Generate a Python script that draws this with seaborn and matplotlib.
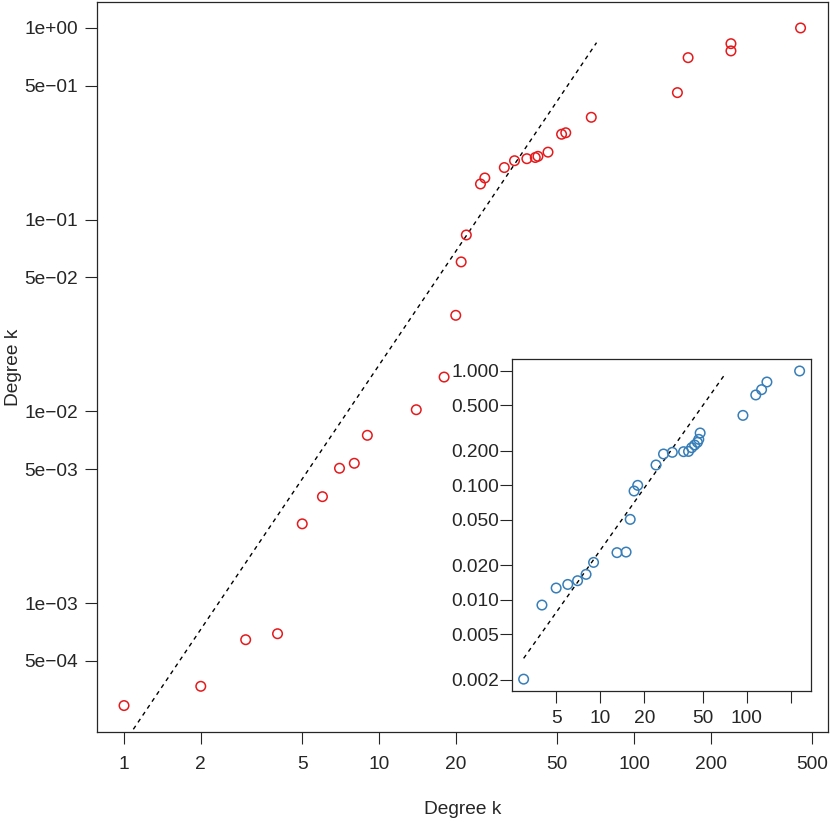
import numpy as np
import pandas as pd
import seaborn as sns
import matplotlib.pyplot as plt
from matplotlib.ticker import NullLocator

# --- data ---
main_k = [1, 2, 3, 4, 5, 6, 7, 8, 9, 14, 18, 20, 21, 22, 25, 26, 31, 34,
          38, 41, 42, 46, 52, 54, 68, 148, 163, 240, 240, 450]
main_p = [2.92e-4, 3.68e-4, 6.44e-4, 6.92e-4, 2.59e-3, 3.59e-3, 5.05e-3,
          5.36e-3, 7.5e-3, 1.02e-2, 1.51e-2, 3.17e-2, 6.02e-2, 8.32e-2,
          0.1535, 0.165, 0.187, 0.203, 0.208, 0.211, 0.214, 0.225, 0.279,
          0.284, 0.342, 0.46, 0.70, 0.759, 0.828, 1.0]
main_fit_k = [1, 71.3]
main_fit_p = [1.86e-4, 0.838]

inset_k = [3, 4, 5, 6, 7, 8, 9, 13, 15, 16, 17, 18, 24, 27, 31, 37, 40,
           42, 44, 46, 47, 48, 94, 115, 126, 137, 229]
inset_p = [0.00202, 0.00898, 0.01265, 0.0136, 0.01466, 0.01666, 0.0212,
           0.0258, 0.0261, 0.0504, 0.0892, 0.1, 0.1507, 0.188, 0.1944,
           0.197, 0.198, 0.2135, 0.2253, 0.2377, 0.2525, 0.287, 0.409,
           0.617, 0.687, 0.801, 1.0]
inset_fit_k = [3, 71.6]
inset_fit_p = [0.00307, 0.954]

main_xticks = [1, 2, 5, 10, 20, 50, 100, 200, 500]
main_yticks = [1, 5e-1, 1e-1, 5e-2, 1e-2, 5e-3, 1e-3, 5e-4]
main_ylabels = ["1e+00", "5e\u221201", "1e\u221201", "5e\u221202", "1e\u221202",
                "5e\u221203", "1e\u221203", "5e\u221204"]
inset_xticks = [5, 10, 20, 50, 100, 200]
inset_xlabels = ["5", "10", "20", "50", "100", ""]
inset_yticks = [1, 0.5, 0.2, 0.1, 0.05, 0.02, 0.01, 0.005, 0.002]
inset_ylabels = ["1.000", "0.500", "0.200", "0.100", "0.050", "0.020",
                 "0.010", "0.005", "0.002"]

RED = "#E41A1C"
BLUE = "#377EB8"
FS = 13.8

sns.set_style("ticks")
plt.rcParams["font.family"] = ["Liberation Sans", "DejaVu Sans"]
plt.rcParams["axes.linewidth"] = 0.9

fig = plt.figure(figsize=(8.3, 8.3), dpi=100)
ax = fig.add_axes([0.1169, 0.1181, 0.8807, 0.8795])
ax.set_xscale("log")
ax.set_yscale("log")
ax.set_xlim(0.7837, 576.6)
ax.set_ylim(2.126e-4, 1.366)

sns.lineplot(x=main_fit_k, y=main_fit_p, ax=ax, color="black", lw=1.0,
             linestyle=(0, (3, 3)), estimator=None)
sns.scatterplot(x=main_k, y=main_p, ax=ax, marker="o", s=47,
                facecolors="none", edgecolor=RED, linewidth=1.1, zorder=3)

ax.set_xticks(main_xticks, [str(t) for t in main_xticks])
ax.set_yticks(main_yticks, main_ylabels)
ax.xaxis.set_minor_locator(NullLocator())
ax.yaxis.set_minor_locator(NullLocator())
ax.tick_params(axis="both", length=8.6, width=0.8, labelsize=FS)
ax.tick_params(axis="x", pad=9)
ax.tick_params(axis="y", pad=5)
ax.set_xlabel("Degree k", fontsize=FS, labelpad=20)
ax.set_ylabel("Degree k", fontsize=FS, labelpad=2)

# --- inset ---
ins = fig.add_axes([0.6172, 0.1678, 0.3599, 0.3993])
ins.set_facecolor("white")
ins.set_xscale("log")
ins.set_yscale("log")
ins.set_xlim(2.51, 273.8)
ins.set_ylim(0.0016, 1.265)

sns.lineplot(x=inset_fit_k, y=inset_fit_p, ax=ins, color="black", lw=1.0,
             linestyle=(0, (3, 3)), estimator=None)
sns.scatterplot(x=inset_k, y=inset_p, ax=ins, marker="o", s=47,
                facecolors="none", edgecolor=BLUE, linewidth=1.1, zorder=3)

ins.set_xticks(inset_xticks, inset_xlabels)
ins.set_yticks(inset_yticks, inset_ylabels)
ins.xaxis.set_minor_locator(NullLocator())
ins.yaxis.set_minor_locator(NullLocator())
ins.tick_params(axis="both", length=8.6, width=0.8, labelsize=FS)
ins.tick_params(axis="x", pad=5)
ins.tick_params(axis="y", pad=0.8)
ins.set_xlabel("")
ins.set_ylabel("")

fig.savefig("out.png", dpi=100)
